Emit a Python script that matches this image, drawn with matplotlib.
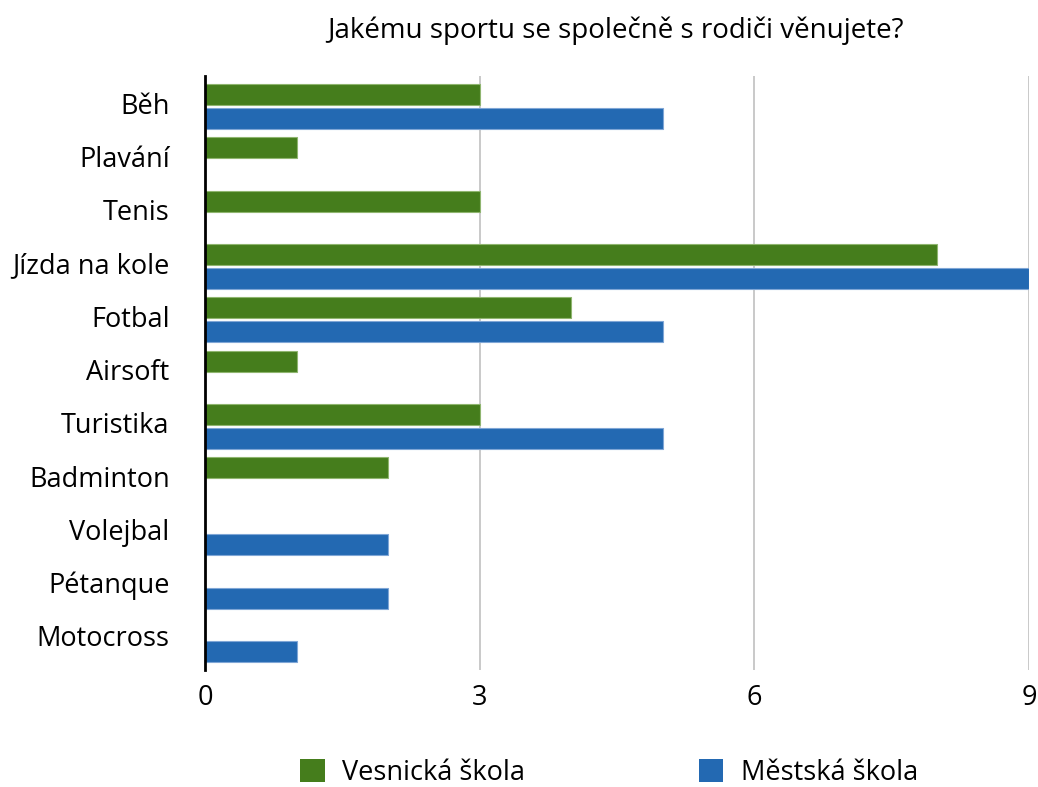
import matplotlib
matplotlib.use("Agg")
import matplotlib.pyplot as plt
import matplotlib.transforms as mtransforms
import numpy as np

plt.rcParams['font.family'] = ['Open Sans', 'DejaVu Sans']

categories = ["Běh", "Plavání", "Tenis", "Jízda na kole", "Fotbal", "Airsoft",
              "Turistika", "Badminton", "Volejbal", "Pétanque", "Motocross"]
vesnicka = [3, 1, 3, 8, 4, 1, 3, 2, 0, 0, 0]
mestska = [5, 0, 0, 9, 5, 0, 5, 0, 2, 2, 1]
series_names = ["Vesnická škola", "Městská škola"]
xticks = [0, 3, 6, 9]
title = "Jakému sportu se společně s rodiči věnujete?"

green = "#457d1c"
blue = "#2369b2"

fig = plt.figure(figsize=(10.38, 7.87), dpi=100)
ax = fig.add_axes([0.1975, 0.1487, 0.7938, 0.7547])

y = np.arange(len(categories))
h = 0.394
off = 0.225
ax.barh(y - off, vesnicka, height=h, color=green, edgecolor="#8fb56f", linewidth=0.8,
        label=series_names[0], zorder=3)
ax.barh(y + off, mestska, height=h, color=blue, edgecolor="#7fa6d6", linewidth=0.8,
        label=series_names[1], zorder=3)

ax.set_ylim(len(categories) - 0.5 + 0.072, -0.5 - 0.072)
ax.set_xlim(0, 9)
ax.set_xticks(xticks)
ax.set_xticklabels([str(t) for t in xticks], fontsize=19.5)
ax.set_yticks(y)
ax.set_yticklabels(categories, fontsize=19.5)
ax.tick_params(axis='both', length=0)
ax.tick_params(axis='x', pad=10)
ax.tick_params(axis='y', pad=24)
shift = mtransforms.ScaledTranslation(-0.02, 0.035, fig.dpi_scale_trans)
for lbl in ax.get_yticklabels():
    lbl.set_transform(lbl.get_transform() + shift)
ax.grid(axis='x', color="#c0c0c0", linewidth=1.2, zorder=0)
for s in ['top', 'right', 'bottom']:
    ax.spines[s].set_visible(False)
ax.spines['left'].set_linewidth(2)
ax.spines['left'].set_color('black')
ax.spines['left'].set_zorder(4)

fig.text(0.593, 0.961, title, ha='center', va='center', fontsize=20)

leg = fig.legend(loc='center', bbox_to_anchor=(0.5867, 0.018), ncol=2, frameon=False,
                 fontsize=19.5, handlelength=0.92, handleheight=0.92, columnspacing=6.4,
                 handletextpad=0.63)
for p in leg.get_patches():
    p.set_edgecolor('none')

fig.savefig("out.png", dpi=100)
